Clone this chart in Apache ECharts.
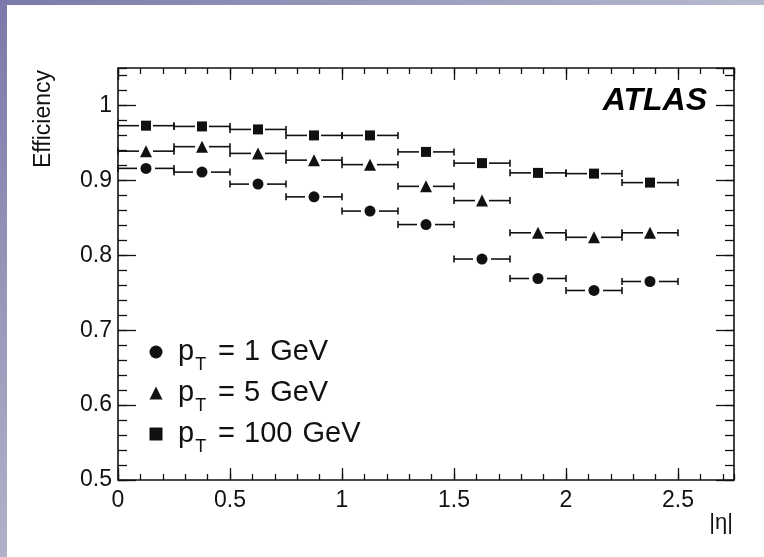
<!DOCTYPE html>
<html>
<head>
<meta charset="utf-8">
<title>Track reconstruction efficiency vs |η|</title>
<script src="https://cdn.jsdelivr.net/npm/echarts@6/dist/echarts.min.js"></script>
<style>
  html, body { margin: 0; padding: 0; background: #fff; }
  #chart { width: 764px; height: 557px; }
</style>
</head>
<body>
<div id="chart"></div>
<script>
// |eta| bin edges (0.25 wide bins)
const etaEdges = [0, 0.25, 0.5, 0.75, 1.0, 1.25, 1.5, 1.75, 2.0, 2.25, 2.5];

// Efficiency per |eta| bin for each track pT
const eff1GeV   = [0.916, 0.911, 0.895, 0.878, 0.859, 0.841, 0.795, 0.769, 0.753, 0.765];
const eff5GeV   = [0.939, 0.945, 0.936, 0.927, 0.921, 0.892, 0.873, 0.830, 0.824, 0.830];
const eff100GeV = [0.973, 0.972, 0.968, 0.960, 0.960, 0.938, 0.923, 0.910, 0.909, 0.897];

// Legend labels (pT values)
const seriesLabels = ['1 GeV', '5 GeV', '100 GeV'];
const seriesSymbols = ['circle', 'triangle', 'rect'];
const seriesSizes = [11, 12, 10];
const barGaps = [9, 7, 7];

// Axis ranges and ticks
const xMin = 0, xMax = 2.75, xMajor = 0.5, xMinor = 0.1;
const yMin = 0.5, yMax = 1.05, yMajor = 0.1, yMinor = 0.02;

const FONT = "'Liberation Sans', Arial, Helvetica, sans-serif";
const INK = '#111';

// rows: [center, eff, low edge, high edge]
function binRows(values) {
  return values.map((v, i) => {
    const lo = etaEdges[i], hi = etaEdges[i + 1];
    return [(lo + hi) / 2, v, lo, hi];
  });
}

// Horizontal bin-width bars with end caps, broken around the marker
function errorBarRenderer(gap) {
  return function (params, api) {
    const y = api.value(1);
    const c = api.coord([api.value(0), y]);
    const lo = api.coord([api.value(2), y]);
    const hi = api.coord([api.value(3), y]);
    const cap = 3.5;
    const style = { stroke: INK, lineWidth: 1.6 };
    return {
      type: 'group',
      children: [
        { type: 'line', shape: { x1: lo[0], y1: c[1], x2: c[0] - gap, y2: c[1] }, style },
        { type: 'line', shape: { x1: c[0] + gap, y1: c[1], x2: hi[0], y2: c[1] }, style },
        { type: 'line', shape: { x1: lo[0], y1: c[1] - cap, x2: lo[0], y2: c[1] + cap }, style },
        { type: 'line', shape: { x1: hi[0], y1: c[1] - cap, x2: hi[0], y2: c[1] + cap }, style }
      ]
    };
  };
}

function xAxisDef(position, interval, tickLen, labels) {
  return {
    type: 'value', position, min: xMin, max: xMax, interval,
    axisLine: { show: false, onZero: false },
    axisTick: { show: true, inside: true, length: tickLen, lineStyle: { color: INK, width: 1.3 } },
    axisLabel: {
      show: labels, margin: 9, color: INK, fontFamily: FONT, fontSize: 23,
      showMaxLabel: false, showMinLabel: true
    },
    splitLine: { show: false }
  };
}

function yAxisDef(position, interval, tickLen, labels) {
  return {
    type: 'value', position, min: yMin, max: yMax, interval,
    axisLine: { show: false, onZero: false },
    axisTick: { show: true, inside: true, length: tickLen, lineStyle: { color: INK, width: 1.3 } },
    axisLabel: {
      show: labels, margin: 6, color: INK, fontFamily: FONT, fontSize: 23,
      showMaxLabel: false, showMinLabel: true
    },
    splitLine: { show: false }
  };
}

const dataSets = [eff1GeV, eff5GeV, eff100GeV];
const series = [];
dataSets.forEach((vals, k) => {
  series.push({
    name: 'bins ' + seriesLabels[k],
    type: 'custom',
    xAxisIndex: 0, yAxisIndex: 0,
    renderItem: errorBarRenderer(barGaps[k]),
    encode: { x: [0, 2, 3], y: 1 },
    data: binRows(vals),
    silent: true, z: 2
  });
});
dataSets.forEach((vals, k) => {
  series.push({
    name: seriesLabels[k],
    type: 'scatter',
    xAxisIndex: 0, yAxisIndex: 0,
    symbol: seriesSymbols[k],
    symbolSize: seriesSizes[k],
    itemStyle: { color: INK, opacity: 1 },
    data: binRows(vals).map(r => [r[0], r[1]]),
    z: 3
  });
});

// "p_T = <value> GeV" legend line
function legendText(name) {
  const parts = name.split(' ');
  return '{p|p}{t|T}{e|=}{n|' + parts[0] + '}{u|' + parts[1] + '}';
}

const mainText = { fontSize: 29, fontFamily: FONT, color: INK, height: 30, lineHeight: 30, verticalAlign: 'top' };

const chart = echarts.init(document.getElementById('chart'), null, { renderer: 'canvas' });
chart.setOption({
  backgroundColor: '#fff',
  animation: false,
  grid: {
    left: 118, top: 68, right: 30, bottom: 77,
    show: true, borderColor: INK, borderWidth: 1.6, backgroundColor: 'transparent',
    containLabel: false, outerBoundsMode: 'none'
  },
  xAxis: [
    xAxisDef('bottom', xMajor, 12, true),
    xAxisDef('bottom', xMinor, 6, false),
    xAxisDef('top', xMajor, 12, false),
    xAxisDef('top', xMinor, 6, false)
  ],
  yAxis: [
    yAxisDef('left', yMajor, 18, true),
    yAxisDef('left', yMinor, 9, false),
    yAxisDef('right', yMajor, 18, false),
    yAxisDef('right', yMinor, 9, false)
  ],
  legend: {
    orient: 'vertical',
    left: 149.5, top: 337,
    padding: 0,
    itemGap: 4,
    itemWidth: 13, itemHeight: 13,
    selectedMode: false,
    data: seriesLabels.map((n, k) => ({ name: n, icon: seriesSymbols[k], itemStyle: { color: INK } })),
    formatter: legendText,
    textStyle: {
      color: INK, fontFamily: FONT,
      rich: {
        p: Object.assign({}, mainText, { padding: [0, 0, 0, 10.5] }),
        t: { fontSize: 18, fontFamily: FONT, color: INK, height: 18, lineHeight: 18, verticalAlign: 'top', padding: [19, 0, 0, 1] },
        e: Object.assign({}, mainText, { padding: [0, 9, 0, 12] }),
        n: Object.assign({}, mainText),
        u: Object.assign({}, mainText, { padding: [0, 0, 0, 10] })
      }
    }
  },
  graphic: [
    {
      type: 'rect', z: -10, silent: true,
      shape: { x: 0, y: 0, width: 764, height: 5 },
      style: { fill: new echarts.graphic.LinearGradient(0, 0, 1, 0, [
        { offset: 0, color: '#7b79a9' }, { offset: 1, color: '#b8bacf' }]) }
    },
    {
      type: 'rect', z: -10, silent: true,
      shape: { x: 0, y: 0, width: 7, height: 557 },
      style: { fill: new echarts.graphic.LinearGradient(0, 0, 0, 1, [
        { offset: 0, color: '#7b79a9' }, { offset: 1, color: '#b0b2c9' }]) }
    },
    {
      type: 'text', x: 44, y: 70, rotation: Math.PI / 2, silent: true,
      style: { text: 'Efficiency', fill: INK, font: '23px ' + FONT, align: 'right', verticalAlign: 'middle' }
    },
    {
      type: 'text', x: 733, y: 523, silent: true,
      style: { text: '|η|', fill: INK, font: '22px ' + FONT, align: 'right', verticalAlign: 'middle' }
    },
    {
      type: 'text', x: 707, y: 101, silent: true,
      style: { text: 'ATLAS', fill: '#000', font: 'italic bold 32px ' + FONT, align: 'right', verticalAlign: 'middle' }
    }
  ],
  series
});
</script>
</body>
</html>
